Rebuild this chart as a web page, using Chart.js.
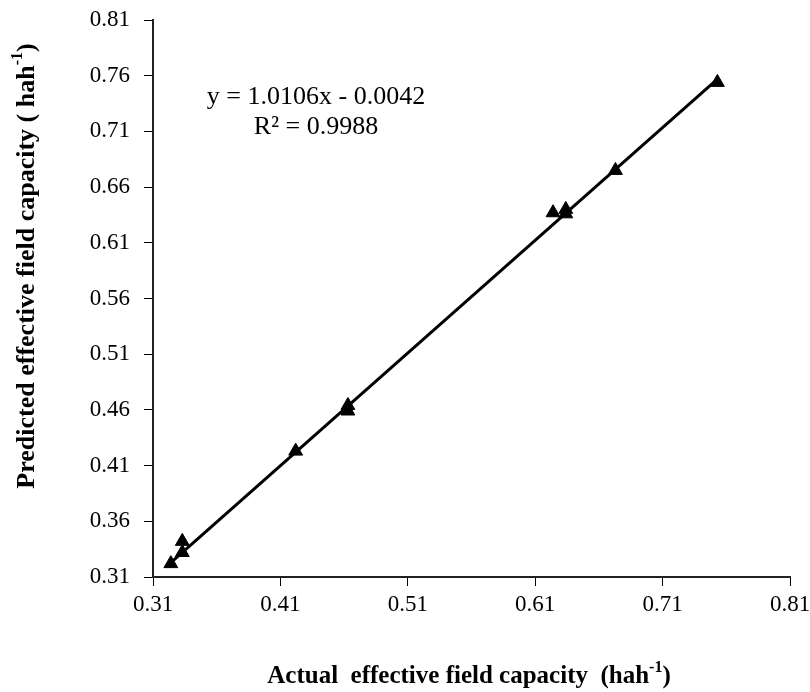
<!DOCTYPE html>
<html>
<head>
<meta charset="utf-8">
<script src="https://cdn.jsdelivr.net/npm/chart.js@4/dist/chart.umd.min.js"></script>
<style>
    html, body { margin: 0; padding: 0; background: #fff; }
    canvas { display: block; }
</style>
</head>
<body>
<canvas id="chart" width="810" height="692"></canvas>
<script>
const actual = [0.324, 0.333, 0.333, 0.422, 0.463, 0.463, 0.624, 0.634, 0.634, 0.673, 0.753];
const predicted = [0.322, 0.342, 0.332, 0.423, 0.464, 0.459, 0.637, 0.640, 0.636, 0.675, 0.754];

// fitted trend line end points
const trendX = [0.324, 0.753];
const trendY = [0.323, 0.757];

const xTicks = [0.31, 0.41, 0.51, 0.61, 0.71, 0.81];
const yTicks = [0.31, 0.36, 0.41, 0.46, 0.51, 0.56, 0.61, 0.66, 0.71, 0.76, 0.81];

const equationLines = ["y = 1.0106x - 0.0042", "R\u00b2 = 0.9988"];

const serif = "'Liberation Serif', 'Times New Roman', serif";

function drawSupTitle(ctx, base, sup, tail, x, y, size) {
    ctx.font = "bold " + size + "px " + serif;
    const w1 = ctx.measureText(base).width;
    const w3 = ctx.measureText(tail).width;
    ctx.font = "bold " + Math.round(size * 0.62) + "px " + serif;
    const w2 = ctx.measureText(sup).width;
    let start = x - (w1 + w2 + w3) / 2;
    ctx.textAlign = "left";
    ctx.textBaseline = "middle";
    ctx.font = "bold " + size + "px " + serif;
    ctx.fillText(base, start, y);
    ctx.font = "bold " + Math.round(size * 0.62) + "px " + serif;
    ctx.fillText(sup, start + w1, y - size * 0.35);
    ctx.font = "bold " + size + "px " + serif;
    ctx.fillText(tail, start + w1 + w2, y);
}

const annotations = {
    id: "annotations",
    afterDraw(chart) {
        const ctx = chart.ctx;
        ctx.save();
        ctx.fillStyle = "#000";

        // regression text
        ctx.font = "26px " + serif;
        ctx.textAlign = "center";
        ctx.textBaseline = "middle";
        ctx.fillText(equationLines[0], 316, 97);
        ctx.fillText(equationLines[1], 316, 127);

        // x title
        drawSupTitle(ctx, "Actual  effective field capacity  (hah", "-1", ")", 469, 677, 25);

        // y title
        ctx.translate(27, 266);
        ctx.rotate(-Math.PI / 2);
        drawSupTitle(ctx, "Predicted effective field capacity ( hah", "-1", ")", 0, 0, 26);
        ctx.restore();
    }
};

const scatterData = actual.map((x, i) => ({ x, y: predicted[i] }));
const trendData = trendX.map((x, i) => ({ x, y: trendY[i] }));

new Chart(document.getElementById("chart"), {
    type: "scatter",
    data: {
        datasets: [
            {
                label: "trend",
                data: trendData,
                showLine: true,
                borderColor: "#000",
                borderWidth: 3,
                pointRadius: 0,
                fill: false,
            },
            {
                label: "points",
                data: scatterData,
                pointStyle: "triangle",
                pointRadius: 8,
                backgroundColor: "#000",
                borderColor: "#000",
                borderWidth: 1,
            },
        ],
    },
    options: {
        responsive: false,
        animation: false,
        layout: { padding: { left: 0, top: 20, right: 20, bottom: 0 } },
        plugins: {
            legend: { display: false },
            tooltip: { enabled: false },
        },
        scales: {
            x: {
                type: "linear",
                min: 0.31,
                max: 0.81,
                afterFit(scale) {
                    scale.height = 115;
                    scale.paddingLeft = 0;
                    scale.paddingRight = 0;
                },
                afterBuildTicks(scale) { scale.ticks = xTicks.map((v) => ({ value: v })); },
                border: { display: true, color: "#222", width: 2 },
                grid: { drawOnChartArea: false, drawTicks: true, tickLength: 9, color: "#000", tickColor: "#000" },
                ticks: {
                    color: "#000",
                    padding: 5,
                    font: { family: serif, size: 23 },
                    callback: (v) => v.toFixed(2),
                },
            },
            y: {
                type: "linear",
                min: 0.31,
                max: 0.81,
                afterFit(scale) {
                    scale.width = 153;
                    scale.paddingTop = 0;
                    scale.paddingBottom = 0;
                },
                afterBuildTicks(scale) { scale.ticks = yTicks.map((v) => ({ value: v })); },
                border: { display: true, color: "#222", width: 2 },
                grid: { drawOnChartArea: false, drawTicks: true, tickLength: 9, color: "#000", tickColor: "#000" },
                ticks: {
                    color: "#000",
                    padding: 14,
                    font: { family: serif, size: 23 },
                    callback: (v) => v.toFixed(2),
                },
            },
        },
    },
    plugins: [annotations],
});
</script>
</body>
</html>
